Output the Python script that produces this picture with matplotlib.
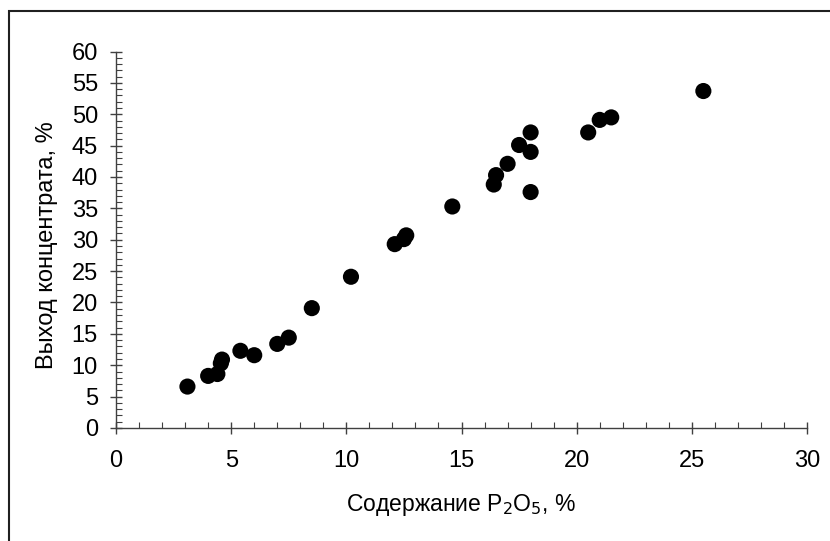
import matplotlib.pyplot as plt
from matplotlib.ticker import MultipleLocator
from matplotlib.patches import Rectangle

plt.rcParams['font.family'] = ['Liberation Sans', 'DejaVu Sans']

# содержание P2O5 и выход концентрата, %
p2o5 = [3.1, 4.0, 4.4, 4.55, 4.6, 5.4, 6.0, 7.0, 7.5, 8.5, 10.2, 12.1, 12.5, 12.6,
        14.6, 16.4, 16.5, 17.0, 17.5, 18.0, 18.0, 18.0, 20.5, 21.0, 21.5, 25.5]
vyhod = [6.6, 8.3, 8.6, 10.3, 10.9, 12.3, 11.6, 13.4, 14.4, 19.1, 24.1, 29.3, 30.1, 30.7,
         35.3, 38.8, 40.3, 42.1, 45.1, 44.0, 47.1, 37.6, 47.1, 49.1, 49.5, 53.7]

fig = plt.figure(figsize=(8.3, 5.41), dpi=100)
ax = fig.add_axes([0.1398, 0.2089, 0.8325, 0.6959])

ax.scatter(p2o5, vyhod, s=135, c='black', edgecolors='none', zorder=3)

ax.set_xlim(0, 30)
ax.set_ylim(0, 60)
ax.xaxis.set_major_locator(MultipleLocator(5))
ax.xaxis.set_minor_locator(MultipleLocator(1))
ax.yaxis.set_major_locator(MultipleLocator(5))
ax.yaxis.set_minor_locator(MultipleLocator(1))

for s in ['top', 'right']:
    ax.spines[s].set_visible(False)
for s in ['left', 'bottom']:
    ax.spines[s].set_color('#404040')
    ax.spines[s].set_linewidth(1.0)

ax.tick_params(which='major', direction='inout', length=8, width=1.0, color='#404040',
               labelsize=17, labelcolor='black')
ax.tick_params(axis='x', which='major', pad=12)
ax.tick_params(axis='y', which='major', pad=9)
ax.tick_params(which='minor', direction='in', length=4, width=0.8, color='#404040')

ax.set_xlabel('Содержание P$_2$O$_5$, %', fontsize=16.5)
ax.xaxis.set_label_coords(0.5, -0.17)
ax.set_ylabel('Выход концентрата, %', fontsize=17)
ax.yaxis.set_label_coords(-0.084, 0.487)

# рамка вокруг диаграммы
fig.patches.append(Rectangle((9 / 830, -0.1), 1.2, 1.1 - 11 / 541,
                             transform=fig.transFigure, fill=False,
                             edgecolor='#202020', linewidth=1.5))

fig.savefig('out.png', dpi=100)
